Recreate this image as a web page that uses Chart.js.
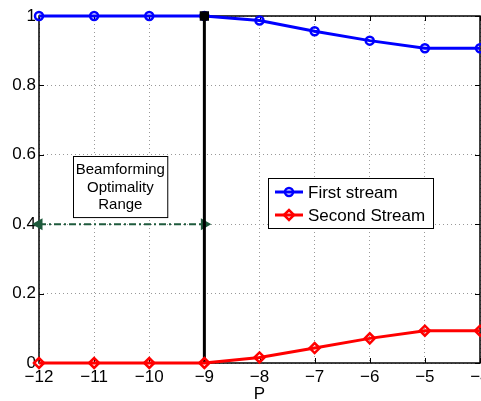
<!DOCTYPE html>
<html><head><meta charset="utf-8">
<script src="https://cdn.jsdelivr.net/npm/chart.js@4/dist/chart.umd.min.js"></script>
<style>html,body{margin:0;padding:0;background:#fff}#wrap{width:481px;height:401px}</style>
</head><body><div id="wrap"><canvas id="c" width="481" height="401"></canvas></div>
<script>
const pValues = [-12, -11, -10, -9, -8, -7, -6, -5, -4];
const firstStream = [1, 1, 1, 1, 0.987, 0.956, 0.929, 0.907, 0.907];
const secondStream = [0, 0, 0, 0, 0.016, 0.043, 0.071, 0.093, 0.093];
const boundaryX = [-9, -9];
const boundaryY = [0, 1];
const arrowX = [-12, -9];
const arrowY = [0.4, 0.4];
const xTicks = [-12, -11, -10, -9, -8, -7, -6, -5, -4];
const xTickLabels = ['\u221212', '\u221211', '\u221210', '\u22129', '\u22128', '\u22127', '\u22126', '\u22125', '\u22124'];
const yTicks = [0, 0.2, 0.4, 0.6, 0.8, 1];
const yTickLabels = ['0', '0.2', '0.4', '0.6', '0.8', '1'];
const seriesNames = ['First stream', 'Second Stream'];
const annotationLines = ['Beamforming', 'Optimality', 'Range'];
const xLabel = 'P';

const FONT = "'Liberation Sans', Arial, Helvetica, sans-serif";
Chart.defaults.font.family = FONT;
Chart.defaults.color = '#000';

const zip = (xs, ys) => xs.map((x, i) => ({x, y: ys[i]}));

const framePlugin = {
  id: 'frame',
  beforeDatasetsDraw(chart) {
    const {ctx, chartArea: a, scales} = chart;
    ctx.save();
    ctx.strokeStyle = '#000';
    ctx.lineWidth = 1;
    ctx.setLineDash([]);
    ctx.beginPath();
    const tl = 5;
    scales.x.ticks.forEach(t => {
      const px = Math.round(scales.x.getPixelForValue(t.value)) + 0.5;
      ctx.moveTo(px, a.bottom); ctx.lineTo(px, a.bottom - tl);
      ctx.moveTo(px, a.top); ctx.lineTo(px, a.top + tl);
    });
    scales.y.ticks.forEach(t => {
      const py = Math.round(scales.y.getPixelForValue(t.value)) + 0.5;
      ctx.moveTo(a.left, py); ctx.lineTo(a.left + tl, py);
      ctx.moveTo(a.right, py); ctx.lineTo(a.right - tl, py);
    });
    ctx.stroke();
    ctx.lineWidth = 1.5;
    ctx.strokeRect(a.left, a.top, a.right - a.left, a.bottom - a.top);
    ctx.restore();
  },
  afterDatasetsDraw(chart) {
    const {ctx, chartArea: a, scales} = chart;
    const sx = scales.x, sy = scales.y;
    ctx.save();
    // annotation box
    const bx0 = sx.getPixelForValue(-11.38), bx1 = sx.getPixelForValue(-9.67);
    const by0 = sy.getPixelForValue(0.596), by1 = sy.getPixelForValue(0.42);
    ctx.fillStyle = '#fff';
    ctx.fillRect(bx0, by0, bx1 - bx0, by1 - by0);
    ctx.strokeStyle = '#000';
    ctx.lineWidth = 1;
    ctx.strokeRect(Math.round(bx0) + 0.5, Math.round(by0) + 0.5, bx1 - bx0, by1 - by0);
    ctx.fillStyle = '#000';
    ctx.font = '15px ' + FONT;
    ctx.textAlign = 'center';
    ctx.textBaseline = 'middle';
    const cx = (bx0 + bx1) / 2;
    annotationLines.forEach((s, i) => ctx.fillText(s, cx, by0 + 14 + i * 17.5));

    // legend
    const lx = a.left + 229, ly = a.top + 162, lw = 165, lh = 50;
    ctx.fillStyle = '#fff';
    ctx.fillRect(lx, ly, lw, lh);
    ctx.strokeStyle = '#000';
    ctx.lineWidth = 1;
    ctx.strokeRect(lx + 0.5, ly + 0.5, lw, lh);
    const ds = chart.data.datasets;
    [0, 1].forEach(i => {
      const d = ds[i];
      const yy = ly + 14 + i * 23;
      ctx.strokeStyle = d.borderColor;
      ctx.lineWidth = 3;
      ctx.beginPath();
      ctx.moveTo(lx + 7, yy); ctx.lineTo(lx + 35, yy);
      ctx.stroke();
      ctx.lineWidth = 2.5;
      ctx.fillStyle = 'rgba(0,0,0,0)';
      Chart.helpers.drawPoint(ctx, {pointStyle: d.pointStyle, radius: d.pointRadius, rotation: 0, borderWidth: 2.5}, lx + 21, yy);
      ctx.fillStyle = '#000';
      ctx.font = '17px ' + FONT;
      ctx.textAlign = 'left';
      ctx.textBaseline = 'middle';
      ctx.fillText(seriesNames[i], lx + 40, yy + 1);
    });
    ctx.restore();
  }
};

new Chart(document.getElementById('c'), {
  type: 'line',
  data: {
    datasets: [
      {
        label: seriesNames[0], data: zip(pValues, firstStream),
        borderColor: '#0000ff', backgroundColor: 'rgba(0,0,0,0)', borderWidth: 3,
        pointStyle: 'circle', pointRadius: 4, pointBorderWidth: 2.5,
        pointBackgroundColor: 'rgba(0,0,0,0)', pointBorderColor: '#0000ff',
        clip: false, order: 2, tension: 0
      },
      {
        label: seriesNames[1], data: zip(pValues, secondStream),
        borderColor: '#ff0000', backgroundColor: 'rgba(0,0,0,0)', borderWidth: 3,
        pointStyle: 'rectRot', pointRadius: 5, pointBorderWidth: 2.5,
        pointBackgroundColor: 'rgba(0,0,0,0)', pointBorderColor: '#ff0000',
        clip: false, order: 0, tension: 0
      },
      {
        label: 'boundary', data: zip(boundaryX, boundaryY),
        borderColor: '#000', borderWidth: 3,
        pointStyle: 'rect', pointRadius: [0, 5.5], pointBorderWidth: 1.5,
        pointBackgroundColor: '#000', pointBorderColor: '#000',
        clip: false, order: 1
      },
      {
        label: 'range', data: zip(arrowX, arrowY),
        borderColor: '#1e5a3c', borderWidth: 2, borderDash: [7, 3, 2, 3],
        pointStyle: 'triangle', pointRadius: 5, rotation: [-90, 90],
        pointBackgroundColor: '#1e5a3c', pointBorderColor: '#1e5a3c',
        clip: false, order: 3
      }
    ]
  },
  options: {
    responsive: false,
    animation: false,
    events: [],
    layout: {autoPadding: false, padding: {left: 0, right: 1, top: 16, bottom: 0}},
    plugins: {legend: {display: false}, tooltip: {enabled: false}},
    scales: {
      x: {
        type: 'linear', min: -12, max: -4,
        afterBuildTicks: s => { s.ticks = xTicks.map(v => ({value: v})); },
        afterFit: s => { s.height = 38; s.paddingLeft = 0; s.paddingRight = 0; },
        ticks: {
          font: {size: 17}, padding: 4, maxRotation: 0, autoSkip: false,
          callback: (v, i) => xTickLabels[i]
        },
        grid: {color: '#999', lineWidth: 1, drawTicks: false},
        border: {display: false, dash: [1, 3]},
        title: {display: true, text: xLabel, font: {size: 17}, padding: {top: 0, bottom: -4}}
      },
      y: {
        type: 'linear', min: 0, max: 1,
        afterBuildTicks: s => { s.ticks = yTicks.map(v => ({value: v})); },
        afterFit: s => { s.width = 39; s.paddingTop = 0; s.paddingBottom = 0; },
        ticks: {
          font: {size: 17}, padding: 3,
          callback: (v, i) => yTickLabels[i]
        },
        grid: {color: '#999', lineWidth: 1, drawTicks: false},
        border: {display: false, dash: [1, 3]}
      }
    }
  },
  plugins: [framePlugin]
});
</script>
</body></html>
